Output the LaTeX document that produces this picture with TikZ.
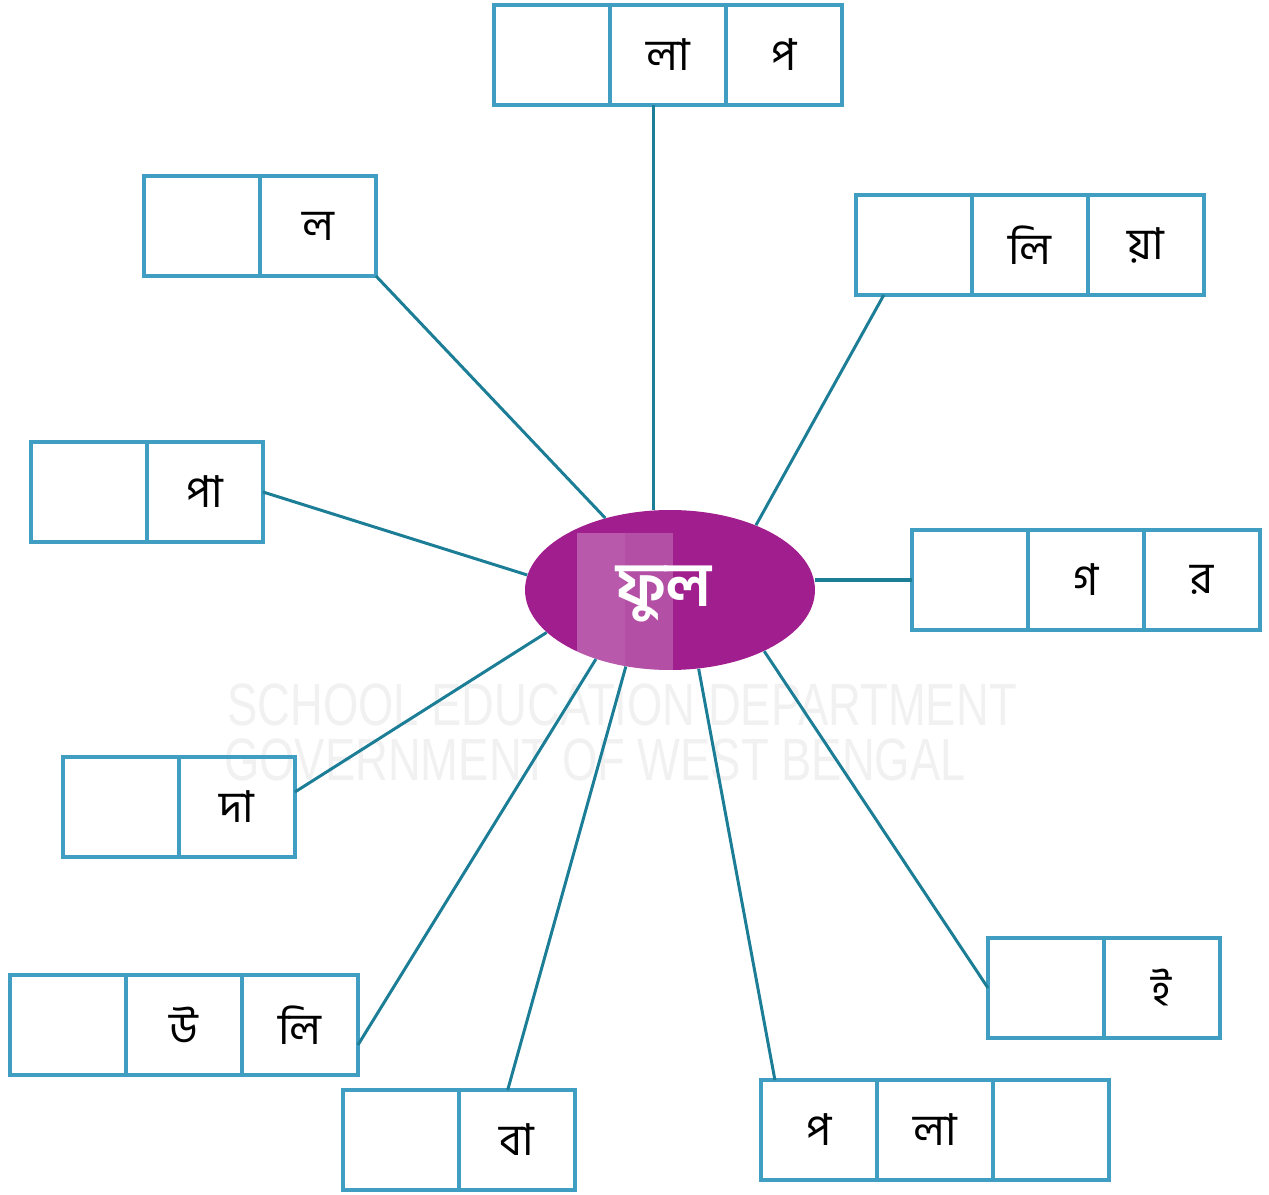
\documentclass[tikz,border=0pt]{standalone}
\usepackage{fontspec}
\usepackage{xcolor}
\usepackage{tikz}
\usetikzlibrary{shapes.geometric,positioning,calc}
\newfontfamily\bn[Script=Bengali]{Hind Siliguri}
\newfontfamily\wmfont{Liberation Sans}
\definecolor{boxblue}{RGB}{64,158,194}
\definecolor{linkteal}{RGB}{28,126,150}
\definecolor{flowerpurple}{RGB}{160,30,142}

\tikzset{
  cell/.style={draw=boxblue,line width=1.8pt,minimum width=2.32cm,minimum height=2cm,
    inner sep=0pt,outer sep=0pt,font=\bn\fontsize{25}{30}\selectfont},
  link/.style={draw=linkteal,line width=1.7pt},
  wmark/.style={gray!11,font=\wmfont\fontsize{34}{34}\selectfont,xscale=0.76,transform shape},
}

\begin{document}
\begin{tikzpicture}[x=0.02cm,y=-0.02cm]
  \useasboundingbox (0,0) rectangle (1269,1195);

  % Watermark
  \node[wmark] (wm1) at (622,705) {SCHOOL EDUCATION DEPARTMENT};
  \node[wmark] (wm2) at (595,760) {GOVERNMENT OF WEST BENGAL};

  % Centre
  \node[ellipse,fill=flowerpurple,minimum width=5.8cm,minimum height=3.2cm,inner sep=0pt] (flower) at (670,590) {};
  \begin{scope}
    \clip (670,590) ellipse [x radius=145,y radius=80];
    \fill[white,opacity=0.22] (577,533) rectangle (673,680);
    \fill[white,opacity=0.06] (577,533) rectangle (625,680);
  \end{scope}
  \node[white,font=\bn\bfseries\fontsize{35}{40}\selectfont] (flowername) at (664,594) {ফুল};

  % Boxes
  \node[cell,anchor=north west] (golap1) at (494,5) {};
  \node[cell,right=0pt of golap1] (golap2) {লা};
  \node[cell,right=0pt of golap2] (golap3) {প};

  \node[cell,anchor=north west] (bel1) at (144,176) {};
  \node[cell,right=0pt of bel1] (bel2) {ল};

  \node[cell,anchor=north west] (dahlia1) at (856,195) {};
  \node[cell,right=0pt of dahlia1] (dahlia2) {লি};
  \node[cell,right=0pt of dahlia2] (dahlia3) {য়া};

  \node[cell,anchor=north west] (champa1) at (31,442) {};
  \node[cell,right=0pt of champa1] (champa2) {পা};

  \node[cell,anchor=north west] (togor1) at (912,530) {};
  \node[cell,right=0pt of togor1] (togor2) {গ};
  \node[cell,right=0pt of togor2] (togor3) {র};

  \node[cell,anchor=north west] (gada1) at (63,757) {};
  \node[cell,right=0pt of gada1] (gada2) {দা};

  \node[cell,anchor=north west] (shiuli1) at (10,975) {};
  \node[cell,right=0pt of shiuli1] (shiuli2) {উ};
  \node[cell,right=0pt of shiuli2] (shiuli3) {লি};

  \node[cell,anchor=north west] (joba1) at (343,1090) {};
  \node[cell,right=0pt of joba1] (joba2) {বা};

  \node[cell,anchor=north west] (palash1) at (761,1080) {প};
  \node[cell,right=0pt of palash1] (palash2) {লা};
  \node[cell,right=0pt of palash2] (palash3) {};

  \node[cell,anchor=north west] (jui1) at (988,938) {};
  \node[cell,right=0pt of jui1] (jui2) {ই};

  % Connectors
  \draw[link] (flower.102.7) -- (flower.102.7 |- golap2.south);
  \draw[link] (flower.132) -- (bel2.south east);
  \draw[link] (flower.37) -- ($(dahlia1.south west)!0.24!(dahlia1.south east)$);
  \draw[link] (flower.174) -- (champa2.east);
  \draw[link,line width=2.8pt] (togor1.west -| flower.east) -- (togor1.west);
  \draw[link] (flower.199) -- ($(gada2.north east)!0.35!(gada2.south east)$);
  \draw[link] (flower.223) -- ($(shiuli3.north east)!0.7!(shiuli3.south east)$);
  \draw[link] (flower.240) -- ($(joba2.north west)!0.42!(joba2.north east)$);
  \draw[link] (flower.290) -- ($(palash1.north west)!0.12!(palash1.north east)$);
  \draw[link] (flower.327) -- (jui1.west);
\end{tikzpicture}
\end{document}
